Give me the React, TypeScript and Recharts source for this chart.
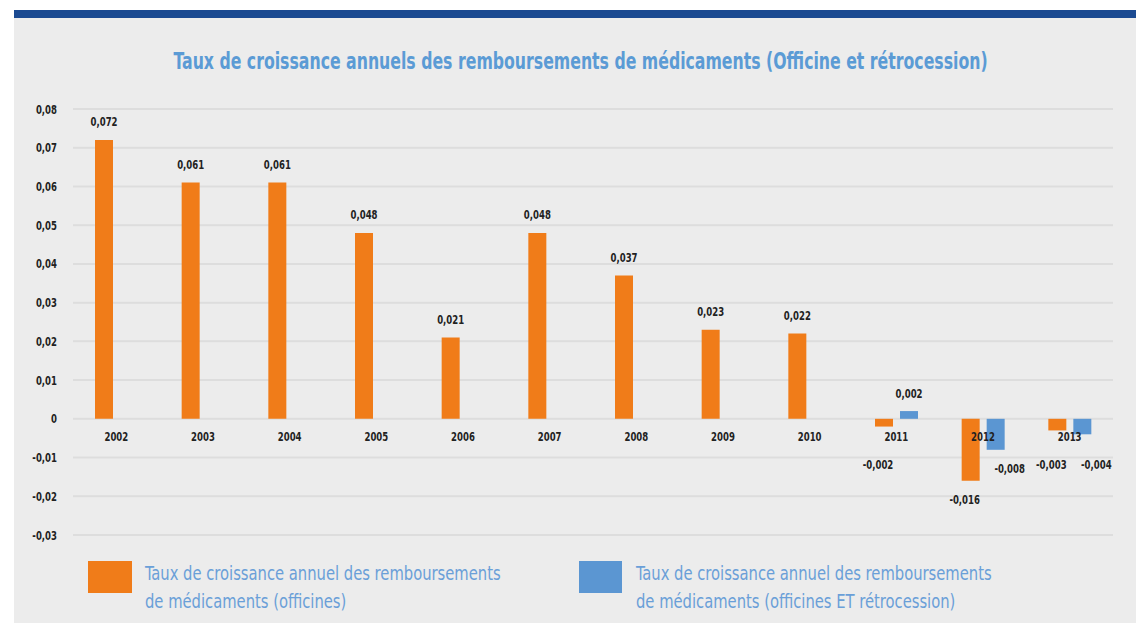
import { BarChart, Bar, XAxis, YAxis, CartesianGrid, LabelList } from 'recharts';

const years = ['2002', '2003', '2004', '2005', '2006', '2007', '2008', '2009', '2010', '2011', '2012', '2013'];
const officines = [0.072, 0.061, 0.061, 0.048, 0.021, 0.048, 0.037, 0.023, 0.022, -0.002, -0.016, -0.003];
const officinesRetro = [null, null, null, null, null, null, null, null, null, 0.002, -0.008, -0.004];
const yTicks = [-0.03, -0.02, -0.01, 0, 0.01, 0.02, 0.03, 0.04, 0.05, 0.06, 0.07, 0.08];

const ORANGE = '#f07c19';
const BLUE = '#5b96d2';
const FONT = '"DejaVu Sans Condensed", "DejaVu Sans", sans-serif';
const SX = 0.76; // squeeze to mimic the narrow DIN-like face

const data = years.map((year, i) => ({ year, officines: officines[i], retro: officinesRetro[i] }));

// plot goes from y=109 (0.08) to y=535 (-0.03)
const TOP = 109;
const BOTTOM = 535;
const X_AXIS_H = 30;
const ZERO_SHIFT = ((BOTTOM - TOP) * 0.03) / 0.11;

const fmt = (v: number) => (v === 0 ? '0' : v.toFixed(3).replace('.', ','));
const fmtTick = (v: number) => (v === 0 ? '0' : v.toFixed(2).replace('.', ','));

function SText({ x, y, anchor, children }: any) {
  return (
    <g transform={`translate(${x},${y}) scale(${SX},1)`}>
      <text x={0} y={0} dy={4.5} textAnchor={anchor} fontSize={12.5} fontWeight="bold" fill="#222" fontFamily={FONT}>
        {children}
      </text>
    </g>
  );
}

function XTick(props: any) {
  const { x, y, payload } = props;
  return <SText x={x} y={y - ZERO_SHIFT + 18} anchor="middle">{payload.value}</SText>;
}

function YTick(props: any) {
  const { x, y, payload } = props;
  return <SText x={x} y={y} anchor="end">{fmtTick(payload.value)}</SText>;
}

const makeLabel = (dx: number) => (props: any) => {
  const { x, y, width, height, value } = props;
  if (value === null || value === undefined) return null;
  const cx = x + width / 2;
  const top = Math.min(y, y + height);
  const bottom = Math.max(y, y + height);
  if (value >= 0) return <SText x={cx} y={top - 18} anchor="middle">{fmt(value)}</SText>;
  const ty = Math.max(bottom + 19, top + 46);
  return <SText x={cx + dx} y={ty} anchor="middle">{fmt(value)}</SText>;
};

const legendText: any = {
  display: 'inline-block',
  whiteSpace: 'nowrap',
  transform: 'scaleX(0.82)',
  transformOrigin: 'left top',
};

export default function App() {
  return (
    <div style={{ position: 'absolute', left: 0, top: 0, width: 1136, height: 623, background: '#fff', fontFamily: FONT }}>
      <div style={{ position: 'absolute', left: 14, top: 10, width: 1122, height: 613, background: '#ececec' }} />
      <div style={{ position: 'absolute', left: 14, top: 10, width: 1122, height: 8, background: '#1b4a91' }} />
      <div style={{ position: 'absolute', left: 0, width: 1162, top: 47, textAlign: 'center', lineHeight: '28px' }}>
        <span
          style={{
            display: 'inline-block',
            whiteSpace: 'nowrap',
            fontSize: 23,
            fontWeight: 'bold',
            color: '#5b9bd5',
            transform: 'scaleX(0.76)',
            transformOrigin: 'center',
          }}
        >
          Taux de croissance annuels des remboursements de médicaments (Officine et rétrocession)
        </span>
      </div>
      <div style={{ position: 'absolute', left: 0, top: 0 }}>
        <BarChart
          width={1136}
          height={623}
          data={data}
          margin={{ top: TOP, bottom: 623 - BOTTOM - X_AXIS_H, left: 0, right: 23 }}
          barSize={18}
          barGap={7}
        >
          <CartesianGrid vertical={false} stroke="#dddddd" strokeWidth={2} />
          <YAxis
            domain={[-0.03, 0.08]}
            ticks={yTicks}
            width={73}
            axisLine={false}
            tickLine={false}
            tickSize={0}
            tickMargin={16}
            tick={<YTick />}
            interval={0}
          />
          <XAxis dataKey="year" height={X_AXIS_H} axisLine={false} tickLine={false} tickSize={0} tickMargin={0} tick={<XTick />} interval={0} />
          <Bar dataKey="officines" fill={ORANGE} isAnimationActive={false}>
            <LabelList dataKey="officines" content={makeLabel(-6)} />
          </Bar>
          <Bar dataKey="retro" fill={BLUE} isAnimationActive={false}>
            <LabelList dataKey="retro" content={makeLabel(14)} />
          </Bar>
        </BarChart>
      </div>
      <div style={{ position: 'absolute', left: 88, top: 561, width: 44, height: 32, background: ORANGE }} />
      <div style={{ position: 'absolute', left: 145, top: 559, fontSize: 20, lineHeight: '28px', color: '#6a9fd8' }}>
        <span style={legendText}>
          Taux de croissance annuel des remboursements
          <br />
          de médicaments (officines)
        </span>
      </div>
      <div style={{ position: 'absolute', left: 579, top: 561, width: 43, height: 32, background: BLUE }} />
      <div style={{ position: 'absolute', left: 636, top: 559, fontSize: 20, lineHeight: '28px', color: '#6a9fd8' }}>
        <span style={legendText}>
          Taux de croissance annuel des remboursements
          <br />
          de médicaments (officines ET rétrocession)
        </span>
      </div>
    </div>
  );
}
